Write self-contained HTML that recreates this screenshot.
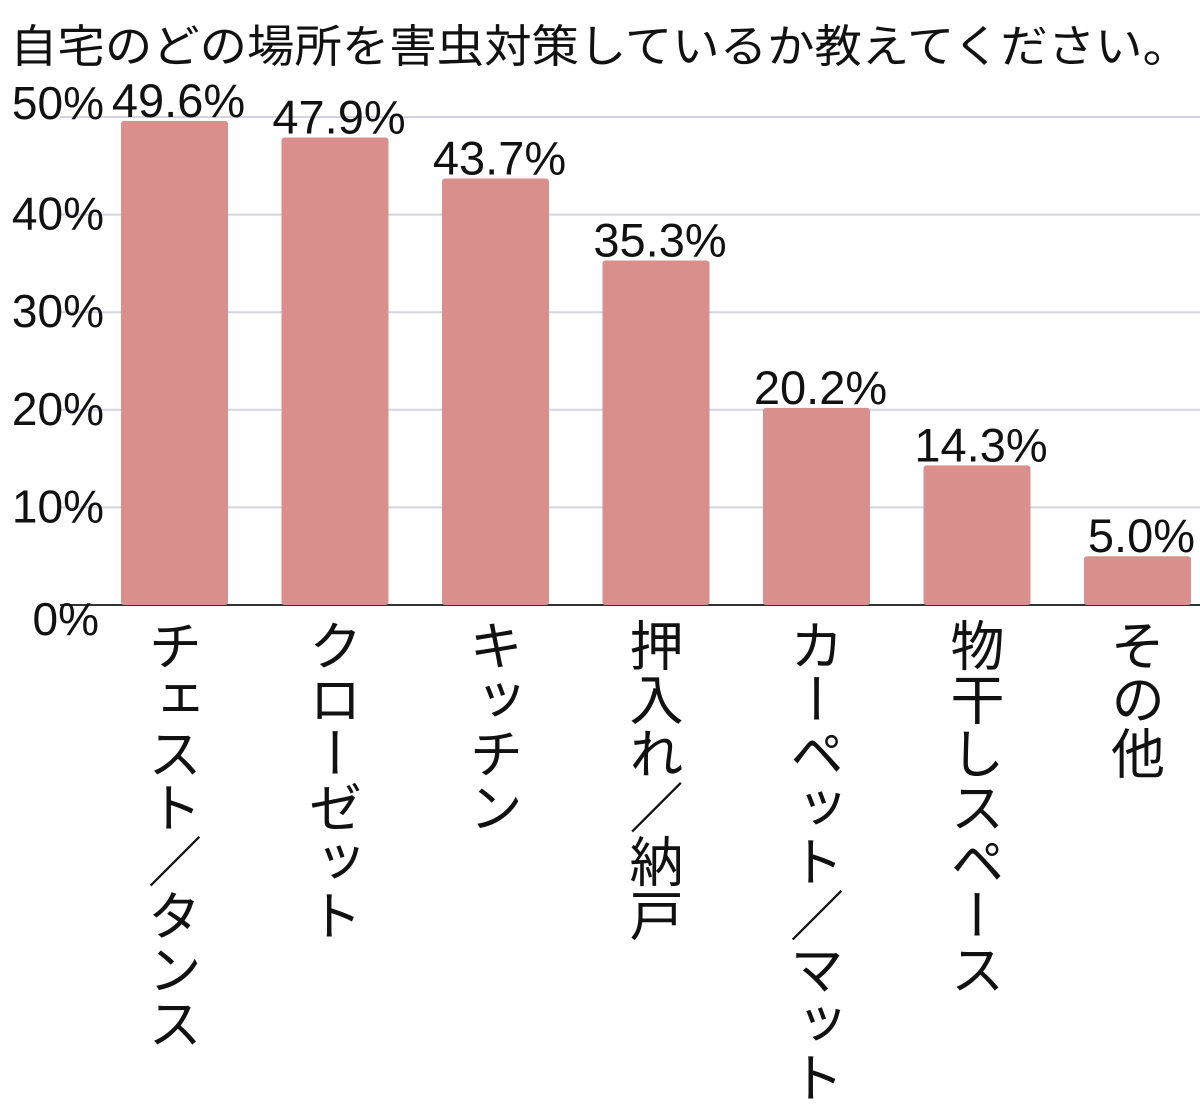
<!DOCTYPE html>
<html><head><meta charset="utf-8"><style>
html,body{margin:0;padding:0;background:#fff;width:1200px;height:1118px;overflow:hidden;position:relative}
.cat{position:absolute;top:618px;writing-mode:vertical-rl;font-family:"Noto Sans CJK JP",sans-serif;font-size:54px;line-height:60px;width:60px;color:#111;letter-spacing:0px}
</style></head><body>
<svg id="chart" width="1200" height="1118" style="position:absolute;left:0;top:0" xmlns="http://www.w3.org/2000/svg">
<text x="10" y="62" font-size="45" textLength="1180" lengthAdjust="spacingAndGlyphs" font-family="'Liberation Sans','Noto Sans CJK JP',sans-serif" fill="#111">自宅のどの場所を害虫対策しているか教えてください。</text>
<g id="grid"></g><g id="bars"></g><g id="labels"></g>
</svg>
<div id="cats"></div>
<script>
const categories=["チェスト／タンス","クローゼット","キッチン","押入れ／納戸","カーペット／マット","物干しスペース","その他"];
const values=[49.6,47.9,43.7,35.3,20.2,14.3,5.0];
const valueLabels=["49.6%","47.9%","43.7%","35.3%","20.2%","14.3%","5.0%"];
const ticks=[0,10,20,30,40,50];
const tickLabels=["0%","10%","20%","30%","40%","50%"];
const NS="http://www.w3.org/2000/svg";
const y0=605,pxPer=9.76;
function y(v){return y0-v*pxPer;}
function xb(i){return 121+i*160.5;}
const bw=107;
const grid=document.getElementById('grid');
ticks.forEach((t,i)=>{
  const l=document.createElementNS(NS,'line');
  
  
  l.setAttribute('x1',60);l.setAttribute('x2',1200);
  l.setAttribute('y1',y(t));l.setAttribute('y2',y(t));
  l.setAttribute('stroke',t===0?'#333':'#d4d4dc');l.setAttribute('stroke-width',2);
  grid.appendChild(l);
  const tx=document.createElementNS(NS,'text');
  
  
  let off=t===0?30:(t===50?2:15);
  tx.setAttribute('x',t===0?99:104);tx.setAttribute('y',y(t)+off);
  tx.setAttribute('text-anchor','end');tx.setAttribute('font-size','46');
  tx.setAttribute('font-family',"'Liberation Sans',sans-serif");tx.setAttribute('fill','#111');
  tx.textContent=tickLabels[i];grid.appendChild(tx);
});
const bars=document.getElementById('bars'),labels=document.getElementById('labels'),cats=document.getElementById('cats');
values.forEach((v,i)=>{
  const r=document.createElementNS(NS,'rect');
  
  
  r.setAttribute('x',xb(i));r.setAttribute('y',y(v));r.setAttribute('width',bw);r.setAttribute('height',y0-y(v));
  r.setAttribute('rx',3);r.setAttribute('fill','#d98f8b');
  bars.appendChild(r);
  const t=document.createElementNS(NS,'text');
  
  
  t.setAttribute('x',xb(i)+bw/2+4);t.setAttribute('y',y(v)-4);
  t.setAttribute('text-anchor','middle');t.setAttribute('font-size','47');
  t.setAttribute('font-family',"'Liberation Sans',sans-serif");t.setAttribute('fill','#111');
  t.textContent=valueLabels[i];labels.appendChild(t);
  const d=document.createElement('div');
  
  
  d.className='cat';d.style.left=(xb(i)+bw/2-30)+'px';
  d.textContent=categories[i];cats.appendChild(d);
});
</script>
</body></html>
